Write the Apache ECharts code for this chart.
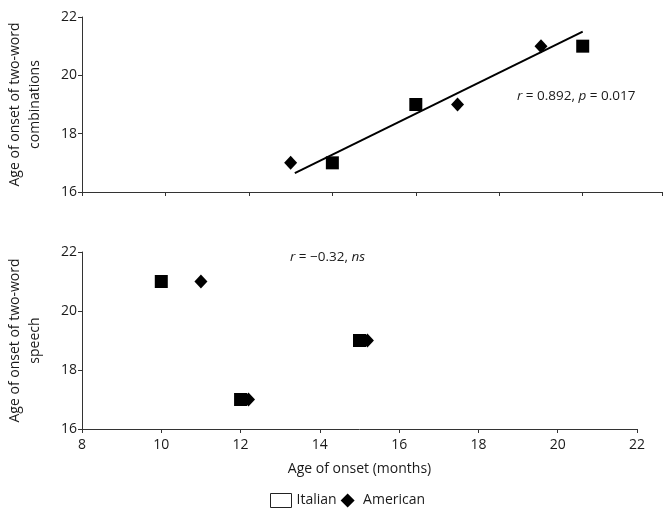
<!DOCTYPE html>
<html>
<head>
<meta charset="utf-8">
<script src="https://cdn.jsdelivr.net/npm/echarts@6/dist/echarts.min.js"></script>
<style>
  html, body { margin: 0; padding: 0; background: #fff; }
  #chart { width: 667px; height: 514px; }
</style>
</head>
<body>
<div id="chart"></div>
<script>
// top panel: age of onset vs two-word combinations
const topItalianX = [14, 16, 20];
const topItalianY = [17, 19, 21];
const topAmericanX = [13, 17, 19];
const topAmericanY = [17, 19, 21];
const fitLineX = [13.1, 20];
const fitLineY = [16.65, 21.5];

// bottom panel: age of onset vs two-word speech
const botItalianX = [10, 12, 15];
const botItalianY = [21, 17, 19];
const botAmericanX = [11, 12.2, 15.2];
const botAmericanY = [21, 17, 19];

const yTicks = [16, 18, 20, 22];
const xTicks = [8, 10, 12, 14, 16, 18, 20, 22];

const pairs = (xs, ys) => xs.map((x, i) => [x, ys[i]]);

const FONT = "'Open Sans', sans-serif";
const INK = "#1a1a1a";
const AXIS = "#333";

const chart = echarts.init(document.getElementById("chart"));

const axisBase = {
  axisLine: { show: true, lineStyle: { color: AXIS, width: 1 } },
  axisTick: { show: true, length: 4, lineStyle: { color: AXIS } },
  splitLine: { show: false },
  axisLabel: { color: INK, fontFamily: FONT, fontSize: 14 },
};

const markStyle = { color: "#000", opacity: 1 };

chart.setOption({
  animation: false,
  backgroundColor: "#fff",
  grid: [
    { left: 82, top: 17, width: 580, height: 175, outerBoundsMode: "none", containLabel: false },
    { left: 82, top: 252, width: 555, height: 177, outerBoundsMode: "none", containLabel: false },
  ],
  xAxis: [
    {
      ...axisBase,
      gridIndex: 0,
      type: "value",
      min: 8,
      max: 21.9,
      interval: 2,
      axisLabel: { show: false },
    },
    {
      ...axisBase,
      gridIndex: 1,
      type: "value",
      min: xTicks[0],
      max: xTicks[xTicks.length - 1],
      interval: 2,
      axisLabel: { ...axisBase.axisLabel, margin: 9 },
      name: "Age of onset (months)",
      nameLocation: "middle",
      nameGap: 33,
      nameTextStyle: { color: INK, fontFamily: FONT, fontSize: 14 },
    },
  ],
  yAxis: [
    {
      ...axisBase,
      gridIndex: 0,
      type: "value",
      min: yTicks[0],
      max: yTicks[yTicks.length - 1],
      interval: 2,
      axisLabel: { ...axisBase.axisLabel, margin: 5 },
      name: "Age of onset of two-word\ncombinations",
      nameLocation: "middle",
      nameRotate: 90,
      nameGap: 37,
      nameTextStyle: { color: INK, fontFamily: FONT, fontSize: 14, lineHeight: 20 },
    },
    {
      ...axisBase,
      gridIndex: 1,
      type: "value",
      min: yTicks[0],
      max: yTicks[yTicks.length - 1],
      interval: 2,
      axisLabel: { ...axisBase.axisLabel, margin: 5 },
      name: "Age of onset of two-word\nspeech",
      nameLocation: "middle",
      nameRotate: 90,
      nameGap: 37,
      nameTextStyle: { color: INK, fontFamily: FONT, fontSize: 14, lineHeight: 20 },
    },
  ],
  legend: {
    left: 265,
    top: 488,
    itemWidth: 21,
    itemHeight: 14,
    itemGap: 4,
    symbolKeepAspect: true,
    textStyle: { color: INK, fontFamily: FONT, fontSize: 14 },
    data: [
      {
        name: "Italian",
        icon: "rect",
        itemStyle: { color: "#fff", borderColor: "#222", borderWidth: 1, opacity: 1 },
      },
      { name: "American", icon: "path://M7,0L14,7L7,14L0,7Z", itemStyle: markStyle },
    ],
  },
  graphic: [
    {
      type: "text",
      left: 517,
      top: 89,
      style: {
        text: "{i|r} = 0.892, {i|p} = 0.017",
        fill: INK,
        font: "13.5px " + FONT,
        rich: { i: { fontStyle: "italic", fontFamily: FONT, fontSize: 13.5, fill: INK } },
      },
    },
    {
      type: "text",
      left: 290,
      top: 250,
      style: {
        text: "{i|r} = \u22120.32, {i|ns}",
        fill: INK,
        font: "13.5px " + FONT,
        rich: { i: { fontStyle: "italic", fontFamily: FONT, fontSize: 13.5, fill: INK } },
      },
    },
  ],
  series: [
    {
      name: "Fit",
      type: "line",
      xAxisIndex: 0,
      yAxisIndex: 0,
      data: pairs(fitLineX, fitLineY),
      showSymbol: false,
      lineStyle: { color: "#000", width: 2 },
      silent: true,
      z: 1,
    },
    {
      name: "Italian",
      type: "scatter",
      xAxisIndex: 0,
      yAxisIndex: 0,
      symbol: "rect",
      symbolSize: 13,
      itemStyle: markStyle,
      data: pairs(topItalianX, topItalianY),
      z: 3,
    },
    {
      name: "American",
      type: "scatter",
      xAxisIndex: 0,
      yAxisIndex: 0,
      symbol: "diamond",
      symbolSize: [13, 14],
      itemStyle: markStyle,
      data: pairs(topAmericanX, topAmericanY),
      z: 3,
    },
    {
      name: "Italian",
      type: "scatter",
      xAxisIndex: 1,
      yAxisIndex: 1,
      symbol: "rect",
      symbolSize: 13,
      itemStyle: markStyle,
      data: pairs(botItalianX, botItalianY),
      z: 3,
    },
    {
      name: "American",
      type: "scatter",
      xAxisIndex: 1,
      yAxisIndex: 1,
      symbol: "diamond",
      symbolSize: [13, 14],
      itemStyle: markStyle,
      data: pairs(botAmericanX, botAmericanY),
      z: 3,
    },
  ],
});
</script>
</body>
</html>
